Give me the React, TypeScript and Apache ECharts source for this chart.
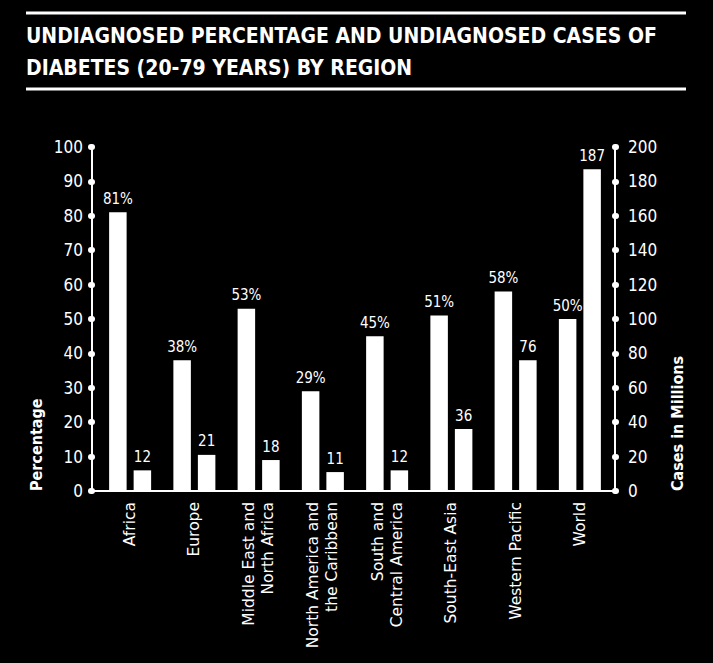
import React, { useEffect, useRef } from "react";
import * as echarts from "echarts";

const titleLines = [
  "UNDIAGNOSED PERCENTAGE AND UNDIAGNOSED CASES OF",
  "DIABETES (20-79 YEARS) BY REGION",
];
const categories = [
  "Africa",
  "Europe",
  "Middle East and\nNorth Africa",
  "North America and\nthe Caribbean",
  "South and\nCentral America",
  "South-East Asia",
  "Western Pacific",
  "World",
];
const pctValues = [81, 38, 53, 29, 45, 51, 58, 50];
const casesValues = [12, 21, 18, 11, 12, 36, 76, 187];
const leftAxisName = "Percentage";
const rightAxisName = "Cases in Millions";

const COND = "'DejaVu Sans Condensed', 'DejaVu Sans', sans-serif";

export default function App() {
  const ref = useRef<HTMLDivElement>(null);
  useEffect(() => {
    const chart = echarts.init(ref.current!, null, { renderer: "svg" });
    const dotTick = {
      show: true,
      length: 1,
      lineStyle: { color: "#fff", width: 6, cap: "round" },
    };
    const top = 147;
    const bottom = 172;
    chart.setOption({
      animation: false,
      backgroundColor: "#000",
      title: {
        text: titleLines.join("\n"),
        left: 21,
        top: 15,
        textStyle: {
          color: "#fff",
          fontFamily: COND,
          fontSize: 21,
          fontWeight: "bold",
          lineHeight: 32,
        },
      },
      graphic: [
        { type: "line", shape: { x1: 26, y1: 13, x2: 686, y2: 13 }, style: { stroke: "#fff", lineWidth: 3 } },
        { type: "line", shape: { x1: 26, y1: 89, x2: 686, y2: 89 }, style: { stroke: "#fff", lineWidth: 3 } },
        {
          type: "text",
          x: 36,
          y: 491,
          rotation: Math.PI / 2,
          style: {
            text: leftAxisName,
            fill: "#fff",
            font: `bold 16px ${COND}`,
            textAlign: "left",
            textVerticalAlign: "middle",
          },
        },
        {
          type: "text",
          x: 677,
          y: 491,
          rotation: Math.PI / 2,
          style: {
            text: rightAxisName,
            fill: "#fff",
            font: `bold 16px ${COND}`,
            textAlign: "left",
            textVerticalAlign: "middle",
          },
        },
      ],
      grid: [
        { left: 98, right: 101, top, bottom },
        { left: 92, right: 98, top, bottom },
      ],
      xAxis: [
        {
          type: "category",
          gridIndex: 0,
          data: categories,
          axisLine: { show: false },
          axisTick: { show: false },
          axisLabel: {
            rotate: 90,
            color: "#fff",
            fontFamily: "'DejaVu Sans', sans-serif",
            fontSize: 15.5,
            lineHeight: 19,
            margin: 11,
            interval: 0,
          },
        },
        {
          type: "value",
          gridIndex: 1,
          min: 0,
          max: 1,
          axisLine: { show: true, lineStyle: { color: "#fff", width: 2 } },
          axisTick: { show: false },
          axisLabel: { show: false },
          splitLine: { show: false },
        },
      ],
      yAxis: [
        {
          type: "value",
          gridIndex: 1,
          position: "left",
          min: 0,
          max: 100,
          interval: 10,
          axisLine: { show: true, lineStyle: { color: "#fff", width: 2 } },
          axisTick: dotTick,
          splitLine: { show: false },
          axisLabel: { color: "#fff", fontFamily: COND, fontSize: 17, margin: 9 },
        },
        {
          type: "value",
          gridIndex: 1,
          position: "right",
          min: 0,
          max: 200,
          interval: 20,
          axisLine: { show: true, lineStyle: { color: "#fff", width: 2 } },
          axisTick: dotTick,
          splitLine: { show: false },
          axisLabel: { color: "#fff", fontFamily: COND, fontSize: 17, margin: 13 },
        },
        { type: "value", gridIndex: 0, show: false, min: 0, max: 100, splitLine: { show: false } },
        { type: "value", gridIndex: 0, show: false, min: 0, max: 200, splitLine: { show: false } },
      ],
      series: [
        {
          type: "bar",
          name: "Percentage",
          xAxisIndex: 0,
          yAxisIndex: 2,
          data: pctValues,
          barWidth: 17.5,
          barGap: "40%",
          itemStyle: { color: "#fff" },
          label: {
            show: true,
            position: "top",
            formatter: "{c}%",
            color: "#fff",
            fontFamily: COND,
            fontSize: 15,
            distance: 6,
          },
        },
        {
          type: "bar",
          name: "Cases",
          xAxisIndex: 0,
          yAxisIndex: 3,
          data: casesValues,
          barWidth: 17.5,
          barGap: "40%",
          itemStyle: { color: "#fff" },
          label: {
            show: true,
            position: "top",
            color: "#fff",
            fontFamily: COND,
            fontSize: 15,
            distance: 6,
          },
        },
      ],
    });
    return () => chart.dispose();
  }, []);
  return (
    <div style={{ position: "absolute", left: 0, top: 0, width: 713, height: 663, background: "#000" }}>
      <div ref={ref} style={{ width: 713, height: 663 }} />
    </div>
  );
}
